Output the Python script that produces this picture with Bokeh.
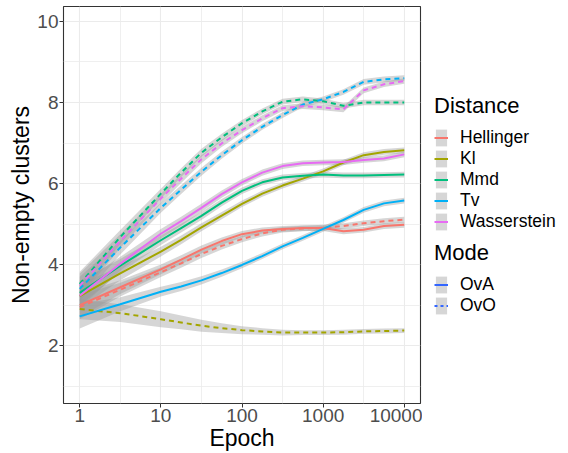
from bokeh.plotting import figure
from bokeh.layouts import row
from bokeh.models import FixedTicker, NumeralTickFormatter, Legend, LegendItem, Range1d
from bokeh.embed import file_html
from bokeh.resources import INLINE

# ---- data ----
epoch = [1, 3.162, 10, 17.78, 31.62, 56.23, 100, 177.8, 316.2, 562.3,
         1000, 1778, 3162, 5623, 10000]

distances = ["Hellinger", "Kl", "Mmd", "Tv", "Wasserstein"]
modes = ["OvA", "OvO"]

hellinger_ova = [3.00, 3.44, 3.88, 4.12, 4.37, 4.58, 4.75, 4.84, 4.88, 4.90, 4.90, 4.82, 4.86, 4.95, 4.98]
hellinger_ovo = [2.95, 3.38, 3.81, 4.03, 4.26, 4.46, 4.63, 4.77, 4.86, 4.89, 4.91, 4.95, 5.02, 5.07, 5.11]
kl_ova = [3.22, 3.78, 4.32, 4.61, 4.92, 5.21, 5.50, 5.75, 5.95, 6.12, 6.30, 6.52, 6.70, 6.78, 6.82]
kl_ovo = [2.90, 2.80, 2.65, 2.57, 2.49, 2.43, 2.38, 2.35, 2.32, 2.32, 2.32, 2.33, 2.35, 2.36, 2.37]
mmd_ova = [3.30, 3.97, 4.60, 4.90, 5.20, 5.53, 5.82, 6.03, 6.15, 6.19, 6.22, 6.20, 6.20, 6.21, 6.22]
mmd_ovo = [3.52, 4.68, 5.75, 6.27, 6.76, 7.14, 7.49, 7.78, 8.02, 8.08, 8.03, 7.92, 8.00, 8.00, 8.00]
tv_ova = [2.72, 3.02, 3.33, 3.46, 3.61, 3.79, 3.99, 4.21, 4.45, 4.66, 4.88, 5.10, 5.35, 5.51, 5.58]
tv_ovo = [3.40, 4.42, 5.40, 5.85, 6.29, 6.70, 7.07, 7.40, 7.69, 7.95, 8.08, 8.26, 8.51, 8.57, 8.60]
wass_ova = [3.23, 4.02, 4.76, 5.07, 5.40, 5.74, 6.03, 6.27, 6.43, 6.50, 6.52, 6.53, 6.58, 6.62, 6.72]
wass_ovo = [3.48, 4.58, 5.63, 6.12, 6.60, 6.99, 7.32, 7.61, 7.86, 7.91, 7.88, 7.83, 8.30, 8.45, 8.53]

# half-width of the grey confidence ribbons
band_std = [0.30, 0.17, 0.12, 0.11, 0.10, 0.09, 0.08, 0.075, 0.07, 0.07, 0.07, 0.07, 0.07, 0.07, 0.07]
band_kl_ovo = [0.25, 0.22, 0.20, 0.17, 0.15, 0.12, 0.10, 0.08, 0.07, 0.06, 0.06, 0.06, 0.06, 0.06, 0.06]

x_ticks = [1, 10, 100, 1000, 10000]
y_ticks = [2, 4, 6, 8, 10]
y_minor = [1, 3, 5, 7, 9]

series = {
    ("Hellinger", "OvA"): (hellinger_ova, band_std),
    ("Hellinger", "OvO"): (hellinger_ovo, band_std),
    ("Kl", "OvA"): (kl_ova, band_std),
    ("Kl", "OvO"): (kl_ovo, band_kl_ovo),
    ("Mmd", "OvA"): (mmd_ova, band_std),
    ("Mmd", "OvO"): (mmd_ovo, band_std),
    ("Tv", "OvA"): (tv_ova, band_std),
    ("Tv", "OvO"): (tv_ovo, band_std),
    ("Wasserstein", "OvA"): (wass_ova, band_std),
    ("Wasserstein", "OvO"): (wass_ovo, band_std),
}

colors = {"Hellinger": "#F8766D", "Kl": "#A3A500", "Mmd": "#00BF7D",
          "Tv": "#00B0F6", "Wasserstein": "#E76BF3"}
mode_color = "#3366FF"
dashes = {"OvA": "solid", "OvO": "5 4"}
band_fill = "#999999"

FONT = "Liberation Sans"
NAN = float("nan")

p = figure(width=422, height=453, x_axis_type="log",
           x_range=Range1d(10 ** -0.2, 10 ** 4.2), y_range=Range1d(0.57, 10.37),
           output_backend="svg", toolbar_location=None,
           min_border_left=63, min_border_right=2, min_border_top=6,
           min_border_bottom=5)

p.background_fill_color = "white"
p.border_fill_color = "white"
p.outline_line_color = "#333333"
p.outline_line_width = 1.1

xt = FixedTicker(ticks=x_ticks, minor_ticks=[10 ** (k + 0.5) for k in range(0, 4)])
yt = FixedTicker(ticks=y_ticks, minor_ticks=y_minor)
p.xaxis.ticker = xt
p.yaxis.ticker = yt
p.xgrid.ticker = xt
p.ygrid.ticker = yt
p.xaxis.formatter = NumeralTickFormatter(format="0")

for g in (p.xgrid, p.ygrid):
    g.grid_line_color = "#EBEBEB"
    g.grid_line_width = 1.1
    g.minor_grid_line_color = "#EBEBEB"
    g.minor_grid_line_width = 0.8

for ax in (p.xaxis, p.yaxis):
    ax.axis_line_color = None
    ax.major_tick_line_color = "#333333"
    ax.major_tick_out = 4
    ax.major_tick_in = 0
    ax.minor_tick_line_color = None
    ax.major_label_text_font = FONT
    ax.major_label_text_font_size = "19px"
    ax.major_label_text_color = "#4D4D4D"
    ax.major_label_standoff = 1
    ax.axis_label_text_font = FONT
    ax.axis_label_text_font_size = "23px"
    ax.axis_label_text_font_style = "normal"
    ax.axis_label_text_color = "black"
    ax.axis_label_standoff = 0

p.xaxis.axis_label = "Epoch"
p.yaxis.axis_label = "Non-empty clusters"

for (d, m), (vals, band) in series.items():
    lo = [v - b for v, b in zip(vals, band)]
    hi = [v + b for v, b in zip(vals, band)]
    p.varea(x=epoch, y1=lo, y2=hi, fill_color=band_fill, fill_alpha=0.4)

for (d, m), (vals, band) in series.items():
    p.line(epoch, vals, line_color=colors[d], line_width=2, line_dash=dashes[m])

# ---- legend panel (separate figure, right of the chart) ----
lg = figure(width=146, height=453, x_range=Range1d(0, 1), y_range=Range1d(0, 1),
            output_backend="svg", toolbar_location=None,
            x_axis_location=None, y_axis_location=None,
            min_border_left=0, min_border_right=0, min_border_top=0, min_border_bottom=0)
lg.grid.visible = False
lg.outline_line_color = None
lg.background_fill_color = "white"
lg.border_fill_color = "white"

# legend key proxies (nothing visible is drawn by them)
key_bg = lg.varea(x=[NAN], y1=[NAN], y2=[NAN], fill_color=band_fill, fill_alpha=0.4)
dist_keys = {d: lg.line(x=[NAN], y=[NAN], line_color=colors[d], line_width=2) for d in distances}
mode_keys = {m: lg.line(x=[NAN], y=[NAN], line_color=mode_color, line_width=2,
                        line_dash=("solid" if m == "OvA" else "3 3")) for m in modes}

items1 = [LegendItem(label=d, renderers=[key_bg, dist_keys[d]]) for d in distances]
items2 = [LegendItem(label=m, renderers=[key_bg, mode_keys[m]]) for m in modes]


def style_legend(leg):
    leg.title_text_font = FONT
    leg.title_text_font_size = "22px"
    leg.title_text_font_style = "normal"
    leg.title_text_color = "black"
    leg.title_standoff = 8
    leg.label_text_font = FONT
    leg.label_text_font_size = "17.5px"
    leg.label_text_color = "black"
    leg.glyph_width = 14
    leg.glyph_height = 21
    leg.label_height = 21
    leg.label_standoff = 12
    leg.spacing = 0
    leg.padding = 0
    leg.margin = 0
    leg.border_line_color = None
    leg.background_fill_alpha = 0


leg1 = Legend(items=items1, title="Distance", location=(12, 171))
leg2 = Legend(items=items2, title="Mode", location=(12, 87))
style_legend(leg1)
style_legend(leg2)
lg.add_layout(leg1)
lg.add_layout(leg2)

layout = row(p, lg)
open("out.html", "w").write(file_html(layout, INLINE))
